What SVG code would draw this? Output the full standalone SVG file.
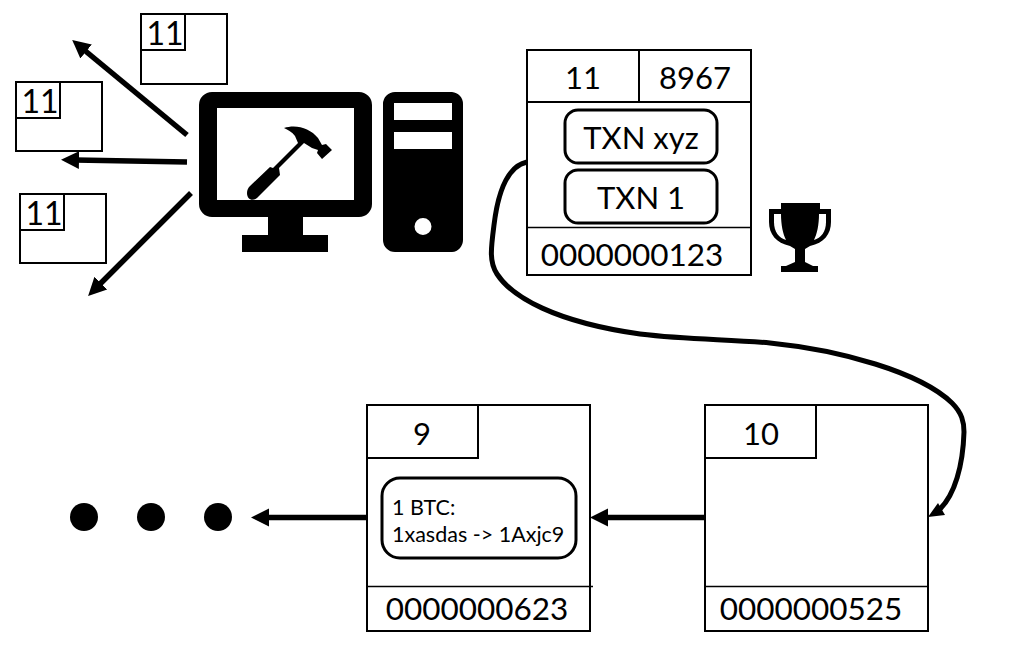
<svg xmlns="http://www.w3.org/2000/svg" width="1026" height="648" viewBox="0 0 1026 648">
<style>
text{font-family:Lato,"Liberation Sans",sans-serif;fill:#000;text-anchor:middle}
.b{fill:#fff;stroke:#000;stroke-width:2}
.t{font-size:31px}
.n{font-size:31.500px}
.s{font-size:32px}
.m{font-size:21.500px;text-anchor:start}
.l{fill:none;stroke:#000;stroke-width:2}
.r{fill:#fff;stroke:#000;stroke-width:3}
.a{fill:none;stroke:#000;stroke-width:5.500}
</style>
<defs>
<marker id="h" markerUnits="userSpaceOnUse" markerWidth="20" markerHeight="20" refX="4" refY="10" orient="auto"><path d="M18 1L0 10L18 19Z" transform="rotate(180 9 10)" fill="#000"/></marker>
</defs>
<g id="mini-top"><rect class="b" x="141" y="14" width="86" height="70"/><rect class="b" x="141" y="14" width="44" height="36"/><text class="s" x="165" y="45">11</text></g>
<g id="mini-mid"><rect class="b" x="16" y="82" width="86" height="69"/><rect class="b" x="16" y="82" width="44" height="36"/><text class="s" x="40" y="113">11</text></g>
<g id="mini-bottom"><rect class="b" x="20" y="194" width="86" height="69"/><rect class="b" x="20" y="194" width="44" height="36"/><text class="s" x="44" y="225">11</text></g>
<g id="computer">
<path fill-rule="evenodd" d="M212 92H359A13 13 0 0 1 372 105V204A13 13 0 0 1 359 217H303V235H328V252H242V235H268V217H212A13 13 0 0 1 199 204V105A13 13 0 0 1 212 92ZM217 108V200H354V108Z"/>
<path fill-rule="evenodd" d="M395 92H452A12 12 0 0 1 463 104V240A12 12 0 0 1 452 252H395A12 12 0 0 1 383 240V104A12 12 0 0 1 395 92ZM394 103V120H452V103ZM394 132V149H452V132ZM423 218A8.500 8.500 0 1 0 423 235A8.500 8.500 0 1 0 423 218Z"/>
<path d="M284 128C296 124 310 128 318 138L322 145L326 144L332 150L322 159L317 153L318 150L312 148L304 143L279 168L280 175L257 198C252 202 247 199 247 193C247 190 248 188 250 186L270 167L273 168L298 143L295 136C292 132 288 130 284 128Z"/>
</g>
<g id="block-11">
<rect class="b" x="527" y="50" width="224" height="225"/>
<path class="l" d="M639 50V102M527 102H751"/>
<path d="M527 227.500H751" stroke="#000" stroke-width="1.500"/>
<text class="t" x="583" y="89">11</text><text class="t" x="695" y="89">8967</text>
<rect class="r" x="565" y="110" width="152" height="53" rx="13"/><text class="t" x="641" y="149">TXN xyz</text>
<rect class="r" x="565" y="170" width="152" height="53" rx="13"/><text class="t" x="641" y="209">TXN 1</text>
<text class="n" x="632" y="266">0000000123</text>
</g>
<g id="trophy">
<path d="M781 203H820V209H831V222C831 234 824 243 810 246L805 249V262L813 266H818V272H781V266H786L795 262V249L790 246C776 243 769 234 769 222V209H781ZM774 214V222C774 232 779 238 786 240C783 234 781 225 781 214ZM826 214H819C819 225 817 234 814 240C821 238 826 232 826 222Z" fill-rule="evenodd"/>
</g>
<g id="block-9">
<rect class="b" x="367" y="405" width="223" height="226"/>
<path class="l" d="M367 458H478V405"/>
<path d="M367 586.500H593" stroke="#000" stroke-width="1.500"/>
<text class="t" x="422" y="445">9</text>
<rect class="r" x="382" y="478" width="194" height="80" rx="18"/>
<text class="m" x="392" y="514.500">1 BTC:</text><text class="m" x="392" y="542">1xasdas -&gt; 1Axjc9</text>
<text class="n" x="477" y="620">0000000623</text>
</g>
<g id="block-10">
<rect class="b" x="705" y="405" width="223" height="226"/>
<path class="l" d="M705 458H816V405"/>
<path d="M705 586.500H928" stroke="#000" stroke-width="1.500"/>
<text class="t" x="761" y="445">10</text>
<text class="n" x="811" y="620">0000000525</text>
</g>
<g id="dots"><circle cx="84" cy="517" r="14"/><circle cx="151" cy="517" r="14"/><circle cx="218" cy="517" r="14"/></g>
<g id="connectors">
<path class="a" marker-end="url(#h)" d="M187 135L83 49"/>
<path class="a" marker-end="url(#h)" d="M187 162L75 160"/>
<path class="a" marker-end="url(#h)" d="M191 193L98 286"/>
<path class="a" marker-end="url(#h)" d="M367 517.500H265"/>
<path class="a" marker-end="url(#h)" d="M705 517.500H604"/>
<path d="M527 162C508 166 498 192 494 225C491 248 489 262 497 274C512 297 555 322 640 334C690 340 730 339 770 343C840 350 920 372 952 403C962 413 964 422 964 432C963 465 955 495 939 510" fill="none" stroke="#000" stroke-width="5"/>
<path d="M928 517L938 503L945 515Z" fill="#000"/>
</g>
</svg>
